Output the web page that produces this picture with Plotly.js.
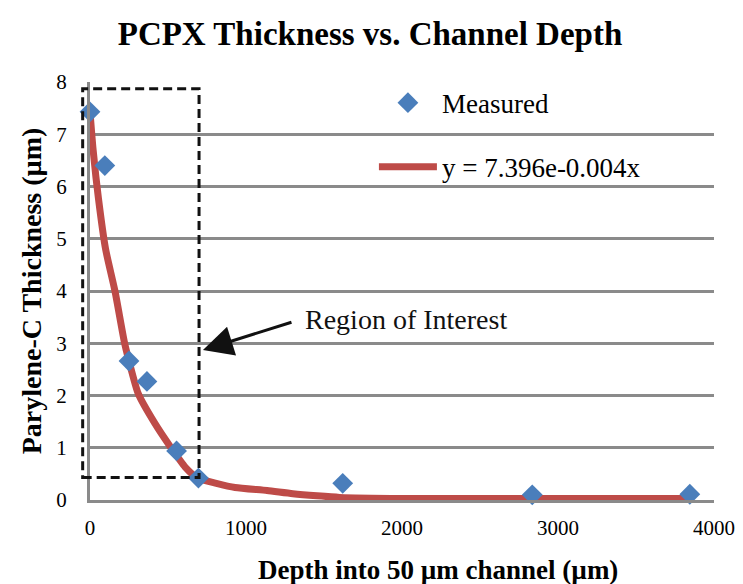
<!DOCTYPE html>
<html>
<head>
<meta charset="utf-8">
<script src="https://cdn.plot.ly/plotly-3.0.1.min.js"></script>
<style>html,body{margin:0;padding:0;background:#fff;}</style>
</head>
<body>
<div id="chart" style="width:743px;height:584px;"></div>
<script>
// Measured points
var measuredX = [0, 95, 250, 365, 555, 695, 1620, 2835, 3845];
var measuredY = [7.43, 6.40, 2.66, 2.27, 0.94, 0.42, 0.32, 0.10, 0.11];

// Exponential trendline as drawn
var trendX = [0, 20, 55, 100, 160, 220, 250, 310, 415, 515, 610, 690, 810, 930, 1135, 1300, 1455, 1600, 2000, 2500, 3000, 3500, 3850];
var trendY = [7.43, 6.70, 5.75, 4.80, 4.00, 3.03, 2.66, 2.03, 1.47, 1.02, 0.63, 0.42, 0.32, 0.24, 0.18, 0.12, 0.08, 0.05, 0.03, 0.03, 0.03, 0.03, 0.03];

var seriesNames = ["Measured", "y = 7.396e-0.004x"];

// Region of interest box (data units) and arrow
var roiX = [-47, 699];
var roiY = [0.43, 7.87];
var arrowTip = [724, 2.87];
var arrowTail = [1301, 3.41];
var roiLabel = "Region of Interest";
var roiLabelPos = [1365, 3.45];

var xRange = [0, 4000];
var yRange = [0, 8];

var serif = "Liberation Serif, Times New Roman, serif";

var traces = [
  {
    x: trendX, y: trendY, type: "scatter", mode: "lines",
    name: seriesNames[1], legendgroup: "b", legendrank: 2, cliponaxis: false,
    line: {color: "#be4b48", width: 7, shape: "spline", smoothing: 0.6}
  },
  {
    x: measuredX, y: measuredY, type: "scatter", mode: "markers",
    name: seriesNames[0], legendgroup: "a", legendrank: 1, cliponaxis: false,
    marker: {symbol: "diamond", size: 16, color: "#4a7ebb"}
  }
];

function px(v) { return (v - xRange[0]) / (xRange[1] - xRange[0]); }
function py(v) { return (v - yRange[0]) / (yRange[1] - yRange[0]); }

var layout = {
  width: 743, height: 584,
  margin: {l: 90, r: 29, t: 82, b: 84},
  paper_bgcolor: "#ffffff", plot_bgcolor: "#ffffff",
  font: {family: serif, color: "#000", size: 20},
  title: {
    text: "<b>PCPX Thickness vs. Channel Depth</b>",
    font: {family: serif, size: 33, color: "#000"},
    x: 0.498, xref: "container", y: 0.943, yanchor: "middle"
  },
  xaxis: {
    range: xRange, dtick: 1000, tick0: 0,
    showgrid: false, zeroline: false,
    showline: true, linecolor: "#8a8a8a", linewidth: 3,
    ticks: "", ticklabelstandoff: 7,
    tickfont: {family: serif, size: 21, color: "#000"}
  },
  yaxis: {
    range: yRange, dtick: 1, tick0: 0,
    showgrid: true, gridcolor: "#8a8a8a", gridwidth: 3,
    zeroline: false,
    showline: true, linecolor: "#8a8a8a", linewidth: 3,
    ticks: "", ticklabelstandoff: 16,
    tickfont: {family: serif, size: 21, color: "#000"},
    title: {text: "<b>Parylene-C Thickness (µm)</b>", font: {family: serif, size: 28, color: "#000"}, standoff: 7}
  },
  showlegend: true,
  legend: {
    x: 0.455, y: 1.008, xanchor: "left", yanchor: "top",
    bgcolor: "rgba(0,0,0,0)", borderwidth: 0,
    traceorder: "grouped", tracegroupgap: 26, itemwidth: 58,
    font: {family: serif, size: 27, color: "#000"}
  },
  shapes: [
    {
      type: "rect", xref: "paper", yref: "paper",
      x0: px(roiX[0]), x1: px(roiX[1]), y0: py(roiY[0]), y1: py(roiY[1]),
      line: {color: "#111", width: 3, dash: "9px,5px"}, fillcolor: "rgba(0,0,0,0)"
    }
  ],
  annotations: [
    {
      x: arrowTip[0], y: arrowTip[1], xref: "x", yref: "y",
      ax: arrowTail[0], ay: arrowTail[1], axref: "x", ayref: "y",
      text: "", showarrow: true, arrowhead: 2, arrowsize: 2, arrowwidth: 3, arrowcolor: "#111"
    },
    {
      x: roiLabelPos[0], y: roiLabelPos[1], xref: "x", yref: "y",
      text: roiLabel, showarrow: false, xanchor: "left", yanchor: "middle",
      font: {family: serif, size: 28, color: "#111"}
    },
    {
      x: 0, y: 0, xref: "paper", yref: "paper",
      text: "<b>Depth into 50 µm channel (µm)</b>", showarrow: false,
      xanchor: "center", yanchor: "middle",
      font: {family: serif, size: 27, color: "#000"}
    }
  ]
};
// convert x-title pixel position to paper units
layout.annotations[2].x = (438 - 90) / (743 - 90 - 29);
layout.annotations[2].y = (500 - 570) / (584 - 82 - 84);

Plotly.newPlot("chart", traces, layout, {displayModeBar: false, staticPlot: true});
</script>
</body>
</html>
